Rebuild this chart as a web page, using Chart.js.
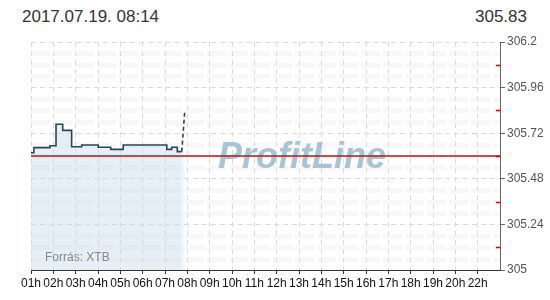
<!DOCTYPE html>
<html><head><meta charset="utf-8">
<script src="https://cdn.jsdelivr.net/npm/chart.js@4"></script>
<style>
body{margin:0;background:#fff;width:550px;height:300px;overflow:hidden;position:relative;font-family:"Liberation Sans",Arial,sans-serif}
#c{position:absolute;left:0;top:0}
.hd{position:absolute;top:7px;font-size:17px;color:#333;line-height:20px}
</style></head><body>
<div class="hd" style="left:22px">2017.07.19. 08:14</div>
<div class="hd" style="right:23px">305.83</div>
<canvas id="c" width="550" height="300"></canvas>
<script>
const hourLabels = ['01h','02h','03h','04h','05h','06h','07h','08h','09h','10h','11h','12h','13h','14h','15h','16h','17h','18h','19h','20h','22h'];
const priceTimes  = [0, 0.13, 0.85, 1.12, 1.42, 1.82, 2.27, 3.01, 3.57, 4.13, 6.08, 6.30, 6.55, 6.75];
const priceValues = [305.617, 305.644, 305.654, 305.767, 305.735, 305.649, 305.658, 305.646, 305.635, 305.658, 305.635, 305.646, 305.623, 305.623];
const lastTimes  = [6.75, 6.88];
const lastValues = [305.623, 305.83];
const prevClose = 305.6;
const yTickValues = [305, 305.24, 305.48, 305.72, 305.96, 306.2];
const yTickLabels = ['305', '305.24', '305.48', '305.72', '305.96', '306.2'];
const yMinorValues = [305.12, 305.36, 305.6, 305.84, 306.08];
const FONT = '"Liberation Sans", Arial, sans-serif';

const bandsPlugin = {
  id: 'bands',
  beforeDraw(chart) {
    const {ctx, chartArea: a, scales: {y}} = chart;
    ctx.save();
    ctx.strokeStyle = '#f7f7f7';
    ctx.lineWidth = 5;
    ctx.setLineDash([19, 3]);
    for (let i = 0; i < yTickValues.length - 1; i++) {
      for (let k = 1; k <= 3; k++) {
        const v = yTickValues[i] + (yTickValues[i + 1] - yTickValues[i]) * k / 4;
        const py = Math.round(y.getPixelForValue(v)) + 0.5;
        ctx.beginPath(); ctx.moveTo(a.left, py); ctx.lineTo(a.right, py); ctx.stroke();
      }
    }
    ctx.restore();
  }
};
const textPlugin = {
  id: 'texts',
  beforeDatasetsDraw(chart) {
    const {ctx} = chart;
    ctx.save();
    ctx.font = 'italic bold 36px ' + FONT;
    ctx.fillStyle = '#a8c4d5';
    ctx.textAlign = 'center';
    ctx.textBaseline = 'alphabetic';
    ctx.fillText('ProfitLine', 302, 168);
    ctx.restore();
  },
  afterDraw(chart) {
    const {ctx, chartArea: a, scales: {y}} = chart;
    ctx.save();
    ctx.font = '12px ' + FONT;
    ctx.fillStyle = '#888';
    ctx.textAlign = 'left';
    ctx.fillText('Forrás: XTB', 45, 261);
    ctx.strokeStyle = '#cc0000';
    ctx.lineWidth = 1.5;
    yMinorValues.forEach(v => {
      const py = Math.round(y.getPixelForValue(v)) + 0.5;
      ctx.beginPath(); ctx.moveTo(a.right - 4, py); ctx.lineTo(a.right, py); ctx.stroke();
    });
    ctx.restore();
  }
};

new Chart(document.getElementById('c'), {
  type: 'line',
  data: {
    datasets: [
      {
        data: priceTimes.map((t, i) => ({x: t, y: priceValues[i]})),
        stepped: true,
        borderColor: '#2a4656', borderWidth: 1.6,
        backgroundColor: 'rgba(200,218,236,0.45)', fill: 'start',
        pointRadius: 0, order: 2
      },
      {
        data: lastTimes.map((t, i) => ({x: t, y: lastValues[i]})),
        borderColor: '#2a4656', borderWidth: 1.6, borderDash: [4, 3],
        backgroundColor: 'rgba(200,218,236,0.25)', fill: 'start',
        pointRadius: 0, order: 2
      },
      {
        data: [{x: 0, y: prevClose}, {x: 21, y: prevClose}],
        borderColor: '#a81c1c', borderWidth: 1.5, fill: false,
        pointRadius: 0, order: 1
      }
    ]
  },
  options: {
    responsive: false, animation: false,
    layout: {padding: {left: 31, top: 42, right: 0, bottom: 0}},
    plugins: {legend: {display: false}, tooltip: {enabled: false}},
    scales: {
      x: {
        type: 'linear', min: 0, max: 21,
        afterBuildTicks: s => { s.ticks = hourLabels.map((_, i) => ({value: i})); },
        afterFit: s => { s.height = 30; },
        ticks: {callback: (v, i) => hourLabels[i], color: '#111', font: {size: 12, family: FONT}, padding: 2, maxRotation: 0, autoSkip: false},
        grid: {color: '#dcdcdc', tickColor: '#333', tickLength: 4, tickBorderDash: []},
        border: {color: '#333', width: 1, dash: [5, 4]}
      },
      y: {
        position: 'right', min: 305, max: 306.2,
        afterBuildTicks: s => { s.ticks = yTickValues.map(v => ({value: v})); },
        afterFit: s => { s.width = 50; },
        ticks: {callback: (v, i) => yTickLabels[i], color: '#555', font: {size: 12, family: FONT}, padding: 2},
        grid: {color: '#dcdcdc', tickColor: '#666', tickLength: 5, tickBorderDash: []},
        border: {color: '#666', width: 1, dash: [5, 4]}
      }
    }
  },
  plugins: [bandsPlugin, textPlugin]
});
</script>
</body></html>
